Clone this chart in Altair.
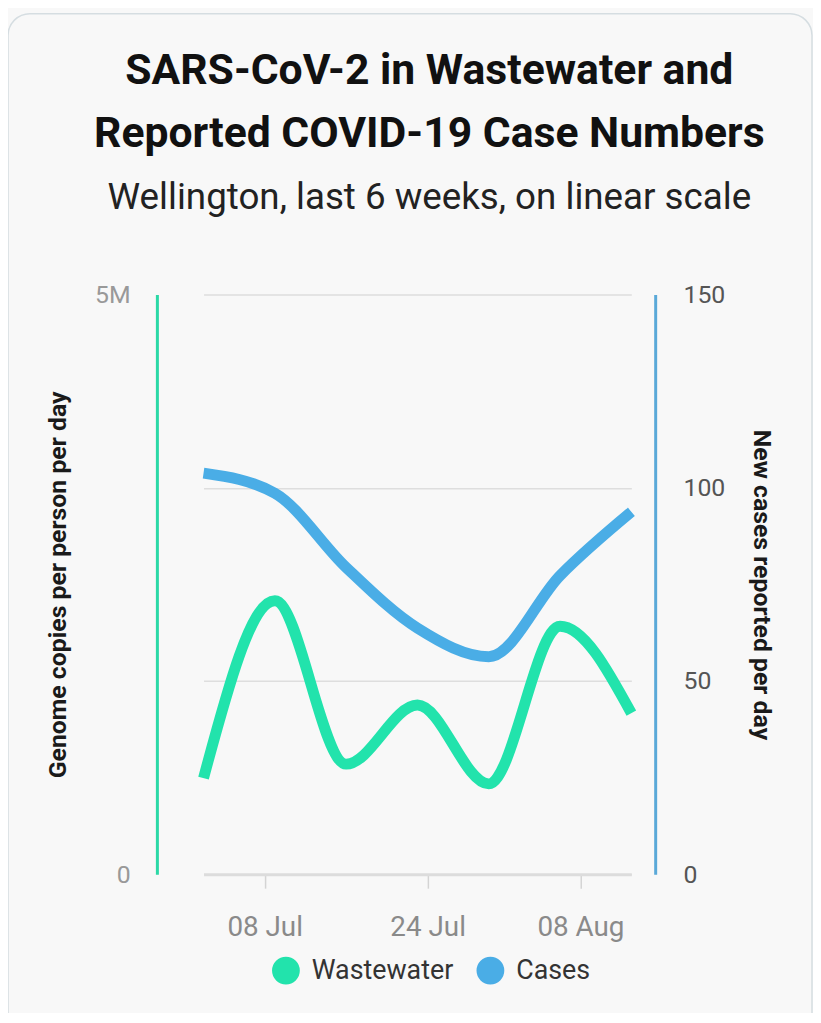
import altair as alt
import pandas as pd

# ---- data ----
dates = ["2023-07-02", "2023-07-09", "2023-07-16", "2023-07-23",
         "2023-07-30", "2023-08-06", "2023-08-13"]
wastewater = [830000, 2360000, 950000, 1460000, 780000, 2140000, 1390000]
cases = [103.8, 98.6, 79.4, 63.7, 56.3, 77.3, 93.8]
series_names = ["Wastewater", "Cases"]
series_colors = ["#22e3ac", "#4aade6"]
x_tick_dates = [(2023, 7, 8), (2023, 7, 24), (2023, 8, 8)]
left_ticks = [0, 5000000]
right_ticks = [0, 50, 100, 150]

ww_df = pd.DataFrame({"date": pd.to_datetime(dates), "value": wastewater,
                      "series": series_names[0]})
cs_df = pd.DataFrame({"date": pd.to_datetime(dates), "value": cases,
                      "series": series_names[1]})

x_enc = alt.X(
    "date:T",
    scale=alt.Scale(domain=[alt.DateTime(year=2023, month=7, date=2),
                            alt.DateTime(year=2023, month=8, date=13)]),
    axis=alt.Axis(
        values=[alt.DateTime(year=y, month=m, date=d) for (y, m, d) in x_tick_dates],
        format="%d %b", title=None, grid=False,
        labelFontSize=28, labelColor="#8a8a8a", labelPadding=26,
        domainColor="#dcdcdc", domainWidth=3,
        tickColor="#d4d4d4", tickWidth=1.5, tickSize=14,
    ),
)

color_enc = alt.Color(
    "series:N",
    scale=alt.Scale(domain=series_names, range=series_colors),
    legend=alt.Legend(
        title=None, orient="none", direction="horizontal",
        legendX=69, legendY=667,
        symbolType="circle", symbolSize=196, symbolStrokeWidth=14,
        labelFontSize=27, labelColor="#333333", labelOffset=12,
        columnPadding=2,
    ),
)

card = alt.Chart(alt.Data(values=[{"k": 1}])).mark_rect(
    filled=False, stroke="#d5dde1", strokeWidth=1.5, cornerRadius=22
).encode(
    x=alt.value(-197), x2=alt.value(613),
    y=alt.value(-283), y2=alt.value(760),
)

ww_line = alt.Chart(ww_df).mark_line(
    interpolate="monotone", strokeWidth=11
).encode(
    x=x_enc,
    y=alt.Y("value:Q",
            scale=alt.Scale(domain=[0, 5000000], nice=False),
            axis=alt.Axis(
                orient="left", values=left_ticks, offset=47,
                labelExpr="datum.value == 0 ? '0' : '5M'",
                labelFontSize=25, labelColor="#999999", labelPadding=27,
                ticks=False, grid=False,
                domainColor="#2bd9a6", domainWidth=3,
                title="Genome copies per person per day",
                titleFontSize=25, titleFontWeight="bold", titleColor="#1a1a1a",
                titlePadding=24,
            )),
    color=color_enc,
)

cs_line = alt.Chart(cs_df).mark_line(
    interpolate="monotone", strokeWidth=11
).encode(
    x=x_enc,
    y=alt.Y("value:Q",
            scale=alt.Scale(domain=[0, 150], nice=False),
            axis=alt.Axis(
                orient="right", values=right_ticks, offset=24,
                labelFontSize=25, labelColor="#555555", labelPadding=28,
                ticks=False, grid=True, gridColor="#dedede", gridWidth=1.5,
                domainColor="#5aa9d8", domainWidth=3,
                title="New cases reported per day",
                titleFontSize=25, titleFontWeight="bold", titleColor="#1a1a1a",
                titlePadding=24,
            )),
    color=color_enc,
)

chart = alt.layer(card, ww_line, cs_line).resolve_scale(
    y="independent"
).properties(
    width=431, height=584,
    autosize=alt.AutoSizeParams(type="none"),
    padding={"left": 197, "top": 285, "right": 183, "bottom": 136},
    background="#f8f8f8",
    title=alt.TitleParams(
        text=["SARS-CoV-2 in Wastewater and", "Reported COVID-19 Case Numbers"],
        subtitle="Wellington, last 6 weeks, on linear scale",
        font="Roboto", fontSize=43, fontWeight="bold", color="#111111",
        lineHeight=63,
        subtitleFont="Roboto", subtitleFontSize=37, subtitleColor="#222222",
        subtitlePadding=24,
        anchor="middle", frame="group", dx=12, offset=0, dy=204,
    ),
).configure(font="Roboto").configure_view(stroke=None)

chart.save("out.html", embed_options={"renderer": "svg", "actions": False})
